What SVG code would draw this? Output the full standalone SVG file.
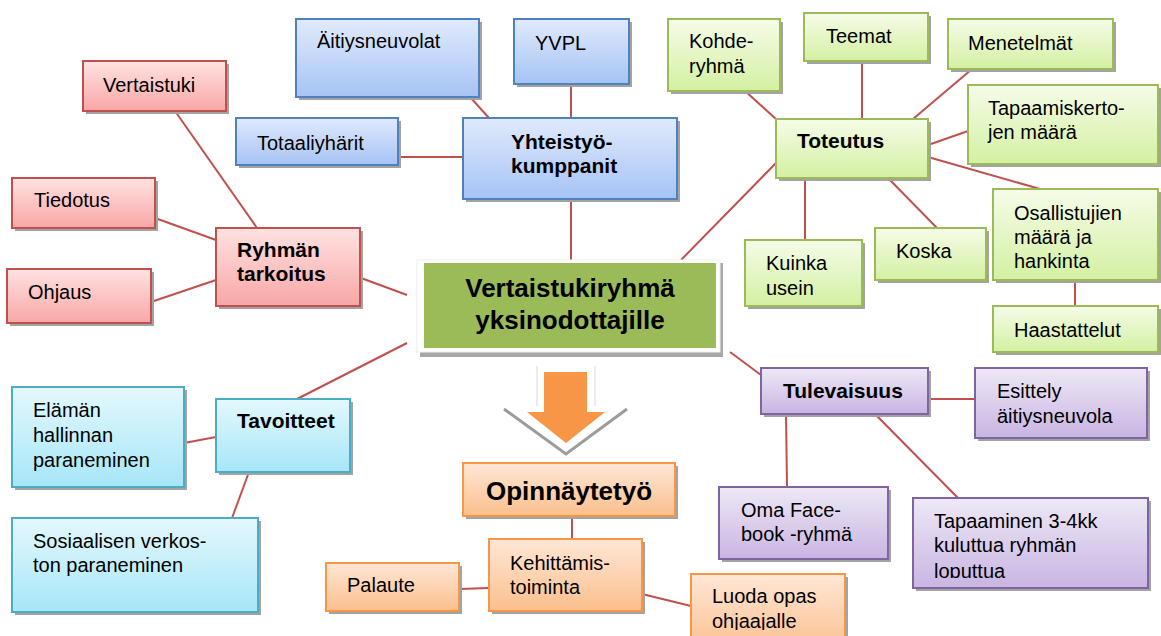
<svg xmlns="http://www.w3.org/2000/svg" width="1161" height="636" viewBox="0 0 1161 636">
  <defs>
    <linearGradient id="gBlue" x1="0" y1="0" x2="0" y2="1">
      <stop offset="0" stop-color="#E0EAFC"/>
      <stop offset="1" stop-color="#A6C3F5"/>
    </linearGradient>
    <linearGradient id="gGreen" x1="0" y1="0" x2="0" y2="1">
      <stop offset="0" stop-color="#F5FCE8"/>
      <stop offset="1" stop-color="#D4F0A2"/>
    </linearGradient>
    <linearGradient id="gRed" x1="0" y1="0" x2="0" y2="1">
      <stop offset="0" stop-color="#FFE2E2"/>
      <stop offset="1" stop-color="#F8A7A5"/>
    </linearGradient>
    <linearGradient id="gCyan" x1="0" y1="0" x2="0" y2="1">
      <stop offset="0" stop-color="#E4F8FD"/>
      <stop offset="1" stop-color="#A6E6F8"/>
    </linearGradient>
    <linearGradient id="gOrange" x1="0" y1="0" x2="0" y2="1">
      <stop offset="0" stop-color="#FFE7D6"/>
      <stop offset="1" stop-color="#FBBF8C"/>
    </linearGradient>
    <linearGradient id="gPurple" x1="0" y1="0" x2="0" y2="1">
      <stop offset="0" stop-color="#EEE8F6"/>
      <stop offset="1" stop-color="#C8B5E2"/>
    </linearGradient>
    <clipPath id="clipTapaaminen"><rect x="913" y="498" width="235" height="80"/></clipPath>
    <clipPath id="clipLuoda"><rect x="691" y="574" width="154" height="56"/></clipPath>
  </defs>
  <style>
    text { font-family: "Liberation Sans", Arial, sans-serif; font-size: 20px; fill: #000; }
    .b { font-weight: bold; font-size: 21px; }
    .title { font-weight: bold; font-size: 26px; }
    .sh { fill: #A3A3A3; }
    .box { stroke-width: 2; }
    .blue { fill: url(#gBlue); stroke: #4F81BD; }
    .green { fill: url(#gGreen); stroke: #9BBB59; }
    .red { fill: url(#gRed); stroke: #C0504D; }
    .cyan { fill: url(#gCyan); stroke: #4BACC6; }
    .orange { fill: url(#gOrange); stroke: #F79646; }
    .purple { fill: url(#gPurple); stroke: #8064A2; }
    #connectors line { stroke: #C0504D; stroke-width: 2; }
  </style>

  <rect width="1161" height="636" fill="#FFFFFF"/>

  <!-- connectors sit under the boxes -->
  <g id="connectors">
    <line x1="470" y1="97" x2="489" y2="118"/>
    <line x1="571" y1="84" x2="571" y2="118"/>
    <line x1="398" y1="157" x2="463" y2="157"/>
    <line x1="571" y1="199" x2="571" y2="260"/>
    <line x1="681" y1="260" x2="776" y2="163"/>
    <line x1="745" y1="91" x2="776" y2="119"/>
    <line x1="862" y1="61" x2="862" y2="119"/>
    <line x1="972" y1="69" x2="913" y2="119"/>
    <line x1="968" y1="131" x2="931" y2="144"/>
    <line x1="928" y1="157" x2="1040" y2="189"/>
    <line x1="805" y1="178" x2="805" y2="240"/>
    <line x1="888" y1="178" x2="937" y2="228"/>
    <line x1="1075" y1="277" x2="1075" y2="306"/>
    <line x1="175" y1="111" x2="257" y2="228"/>
    <line x1="155" y1="218" x2="216" y2="240"/>
    <line x1="151" y1="302" x2="216" y2="280"/>
    <line x1="361" y1="278" x2="407" y2="295"/>
    <line x1="184" y1="443" x2="216" y2="437"/>
    <line x1="249" y1="472" x2="232" y2="518"/>
    <line x1="297" y1="399" x2="407" y2="343"/>
    <line x1="572" y1="516" x2="572" y2="539"/>
    <line x1="459" y1="589" x2="489" y2="588"/>
    <line x1="642" y1="594" x2="691" y2="606"/>
    <line x1="730" y1="352" x2="761" y2="375"/>
    <line x1="928" y1="399" x2="975" y2="399"/>
    <line x1="786" y1="414" x2="787" y2="487"/>
    <line x1="875" y1="414" x2="958" y2="498"/>
  </g>

  <!-- central topic -->
  <g id="n-center">
    <rect x="420" y="263" width="303" height="94" fill="#A8A8A8"/>
    <rect x="417" y="260" width="303" height="92" fill="#FFFFFF" stroke="#EEEEEE" stroke-width="1"/>
    <rect x="424" y="263" width="292" height="85" fill="#9BBB59"/>
    <text class="title" x="570" y="297" text-anchor="middle">Vertaistukiryhmä</text>
    <text class="title" x="570" y="329" text-anchor="middle">yksinodottajille</text>
  </g>

  <!-- down arrow towards the thesis box -->
  <g id="arrow">
    <line x1="537" y1="366" x2="537" y2="406" stroke="#E6E6E6" stroke-width="1.5"/>
    <line x1="595" y1="366" x2="595" y2="406" stroke="#E6E6E6" stroke-width="1.5"/>
    <polyline points="504,409 566,454 627,409" fill="none" stroke="#9C9C9C" stroke-width="3"/>
    <polygon points="544,372 587,372 587,412 605,412 566,443 527,412 544,412" fill="#F79646"/>
  </g>

  <!-- partners (blue) -->
  <g id="n-aitiysneuvolat">
    <rect class="sh" x="299" y="22" width="183" height="78"/>
    <rect class="box blue" x="296" y="19" width="183" height="78"/>
    <text x="317" y="48">Äitiysneuvolat</text>
  </g>
  <g id="n-yvpl">
    <rect class="sh" x="517" y="22" width="115" height="65"/>
    <rect class="box blue" x="514" y="19" width="115" height="65"/>
    <text x="535" y="50">YVPL</text>
  </g>
  <g id="n-totaaliyharit">
    <rect class="sh" x="239" y="121" width="162" height="47"/>
    <rect class="box blue" x="236" y="118" width="162" height="47"/>
    <text x="257" y="150">Totaaliyhärit</text>
  </g>
  <g id="n-yhteistyokumppanit">
    <rect class="sh" x="466" y="121" width="214" height="81"/>
    <rect class="box blue" x="463" y="118" width="214" height="81"/>
    <text class="b" x="511" y="149">Yhteistyö-</text>
    <text class="b" x="511" y="173">kumppanit</text>
  </g>

  <!-- implementation (green) -->
  <g id="n-kohderyhma">
    <rect class="sh" x="671" y="22" width="112" height="72"/>
    <rect class="box green" x="668" y="19" width="112" height="72"/>
    <text x="689" y="48">Kohde-</text>
    <text x="689" y="73">ryhmä</text>
  </g>
  <g id="n-teemat">
    <rect class="sh" x="807" y="16" width="124" height="48"/>
    <rect class="box green" x="804" y="13" width="124" height="48"/>
    <text x="826" y="43">Teemat</text>
  </g>
  <g id="n-menetelmat">
    <rect class="sh" x="951" y="22" width="165" height="50"/>
    <rect class="box green" x="948" y="19" width="165" height="50"/>
    <text x="968" y="50">Menetelmät</text>
  </g>
  <g id="n-tapaamiskertojen">
    <rect class="sh" x="971" y="88" width="190" height="79"/>
    <rect class="box green" x="968" y="85" width="190" height="79"/>
    <text x="988" y="115">Tapaamiskerto-</text>
    <text x="988" y="139">jen määrä</text>
  </g>
  <g id="n-toteutus">
    <rect class="sh" x="779" y="122" width="152" height="59"/>
    <rect class="box green" x="776" y="119" width="152" height="59"/>
    <text class="b" x="797" y="148">Toteutus</text>
  </g>
  <g id="n-kuinka-usein">
    <rect class="sh" x="748" y="243" width="117" height="66"/>
    <rect class="box green" x="745" y="240" width="117" height="66"/>
    <text x="766" y="270">Kuinka</text>
    <text x="766" y="295">usein</text>
  </g>
  <g id="n-koska">
    <rect class="sh" x="878" y="231" width="111" height="52"/>
    <rect class="box green" x="875" y="228" width="111" height="52"/>
    <text x="896" y="258">Koska</text>
  </g>
  <g id="n-osallistujien">
    <rect class="sh" x="996" y="192" width="165" height="91"/>
    <rect class="box green" x="993" y="189" width="165" height="91"/>
    <text x="1014" y="220">Osallistujien</text>
    <text x="1014" y="244">määrä ja</text>
    <text x="1014" y="268">hankinta</text>
  </g>
  <g id="n-haastattelut">
    <rect class="sh" x="996" y="309" width="165" height="46"/>
    <rect class="box green" x="993" y="306" width="165" height="46"/>
    <text x="1014" y="337">Haastattelut</text>
  </g>

  <!-- purpose (red) -->
  <g id="n-vertaistuki">
    <rect class="sh" x="86" y="64" width="143" height="50"/>
    <rect class="box red" x="83" y="61" width="143" height="50"/>
    <text x="103" y="92">Vertaistuki</text>
  </g>
  <g id="n-tiedotus">
    <rect class="sh" x="15" y="181" width="143" height="50"/>
    <rect class="box red" x="12" y="178" width="143" height="50"/>
    <text x="34" y="207">Tiedotus</text>
  </g>
  <g id="n-ohjaus">
    <rect class="sh" x="10" y="272" width="144" height="54"/>
    <rect class="box red" x="7" y="269" width="144" height="54"/>
    <text x="28" y="299">Ohjaus</text>
  </g>
  <g id="n-ryhman-tarkoitus">
    <rect class="sh" x="219" y="231" width="144" height="78"/>
    <rect class="box red" x="216" y="228" width="144" height="78"/>
    <text class="b" x="237" y="257">Ryhmän</text>
    <text class="b" x="237" y="281">tarkoitus</text>
  </g>

  <!-- goals (cyan) -->
  <g id="n-elaman-hallinnan">
    <rect class="sh" x="15" y="390" width="172" height="100"/>
    <rect class="box cyan" x="12" y="387" width="172" height="100"/>
    <text x="33" y="417">Elämän</text>
    <text x="33" y="442">hallinnan</text>
    <text x="33" y="467">paraneminen</text>
  </g>
  <g id="n-tavoitteet">
    <rect class="sh" x="219" y="402" width="134" height="73"/>
    <rect class="box cyan" x="216" y="399" width="134" height="73"/>
    <text class="b" x="237" y="428">Tavoitteet</text>
  </g>
  <g id="n-sosiaalisen">
    <rect class="sh" x="15" y="521" width="246" height="94"/>
    <rect class="box cyan" x="12" y="518" width="246" height="94"/>
    <text x="33" y="548">Sosiaalisen verkos-</text>
    <text x="33" y="572">ton paraneminen</text>
  </g>

  <!-- thesis (orange) -->
  <g id="n-opinnaytetyo">
    <rect class="sh" x="466" y="466" width="212" height="53"/>
    <rect class="box orange" x="463" y="463" width="212" height="53"/>
    <text class="title" x="569" y="500" text-anchor="middle">Opinnäytetyö</text>
  </g>
  <g id="n-kehittamistoiminta">
    <rect class="sh" x="492" y="542" width="153" height="72"/>
    <rect class="box orange" x="489" y="539" width="153" height="72"/>
    <text x="510" y="570">Kehittämis-</text>
    <text x="510" y="594">toiminta</text>
  </g>
  <g id="n-palaute">
    <rect class="sh" x="329" y="566" width="133" height="48"/>
    <rect class="box orange" x="326" y="563" width="133" height="48"/>
    <text x="347" y="592">Palaute</text>
  </g>
  <g id="n-luoda-opas">
    <rect class="sh" x="694" y="577" width="154" height="80"/>
    <rect class="box orange" x="691" y="574" width="154" height="80"/>
    <g clip-path="url(#clipLuoda)">
      <text x="712" y="603">Luoda opas</text>
      <text x="712" y="628">ohjaajalle</text>
    </g>
  </g>

  <!-- future (purple) -->
  <g id="n-tulevaisuus">
    <rect class="sh" x="764" y="371" width="167" height="46"/>
    <rect class="box purple" x="761" y="368" width="167" height="46"/>
    <text class="b" x="783" y="398">Tulevaisuus</text>
  </g>
  <g id="n-esittely">
    <rect class="sh" x="978" y="371" width="172" height="70"/>
    <rect class="box purple" x="975" y="368" width="172" height="70"/>
    <text x="997" y="398">Esittely</text>
    <text x="997" y="423">äitiysneuvola</text>
  </g>
  <g id="n-oma-facebook">
    <rect class="sh" x="722" y="490" width="169" height="72"/>
    <rect class="box purple" x="719" y="487" width="169" height="72"/>
    <text x="741" y="517">Oma Face-</text>
    <text x="741" y="541">book -ryhmä</text>
  </g>
  <g id="n-tapaaminen">
    <rect class="sh" x="916" y="501" width="235" height="90"/>
    <rect class="box purple" x="913" y="498" width="235" height="90"/>
    <g clip-path="url(#clipTapaaminen)">
      <text x="934" y="528">Tapaaminen 3-4kk</text>
      <text x="934" y="552">kuluttua ryhmän</text>
      <text x="934" y="578">loputtua</text>
    </g>
  </g>
</svg>
